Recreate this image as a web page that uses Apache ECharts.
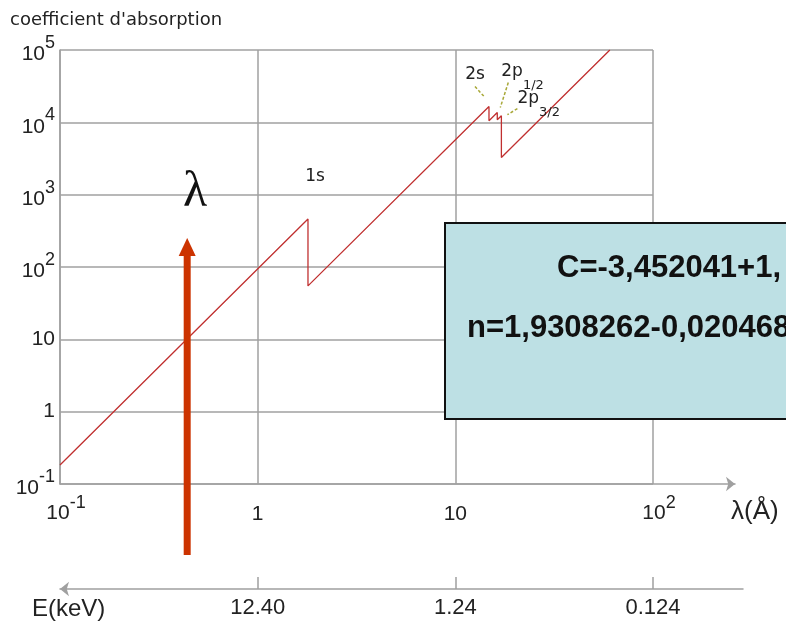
<!DOCTYPE html>
<html>
<head>
<meta charset="utf-8">
<title>coefficient d'absorption</title>
<script src="https://cdn.jsdelivr.net/npm/echarts@6/dist/echarts.min.js"></script>
<style>
html, body { margin: 0; padding: 0; background: #fff; }
#chart { width: 786px; height: 625px; }
</style>
</head>
<body>
<div id="chart"></div>
<script>
// longueur d'onde (Å) et coefficient d'absorption
const lambda = [0.1, 1.797, 1.797, 14.8, 14.8, 16.3, 16.3, 17.1, 17.1, 60.5];
const mu = [0.183, 462, 54.8, 16560, 10500, 13650, 10840, 12360, 3260, 100000];

const lambdaTicks = [0.1, 1, 10, 100];
const lambdaTickLabels = ['{bb|10}{s|-1}', '{xb|1}', '{xb|10}', '{bb|10}{s|2}'];
const muTicks = [0.1, 1, 10, 100, 1000, 10000, 100000];
const muTickLabels = ['{yb|10}{ys|-1}', '{b|1}', '{b|10}', '{yb|10}{ys|2}', '{yb|10}{ys|3}', '{yb|10}{ys|4}', '{yb|10}{ys|5}'];
// axe des énergies : graduations placées en log10(λ)
const energyTicks = [0, 1, 2];
const energyTickLabels = ['12.40', '1.24', '0.124'];
const arrowLambda = 0.44;

const gridColor = '#a0a0a0';
const tickFont = '"Liberation Sans", Arial, sans-serif';
const textFont = '"DejaVu Sans", "Liberation Sans", sans-serif';

function pickLabel(ticks, labels, v) {
  const k = Math.round(Math.log10(v));
  for (let i = 0; i < ticks.length; i++) {
    if (Math.round(Math.log10(ticks[i])) === k) return labels[i];
  }
  return '';
}

const base = { fontFamily: tickFont, fontSize: 21, lineHeight: 30, color: '#222' };
const richTicks = {
  b: Object.assign({}, base),
  xb: Object.assign({}, base, { padding: [11, 0, 0, 0] }),
  bb: Object.assign({}, base, { verticalAlign: 'bottom', padding: [0, 0, 0, 12] }),
  s: Object.assign({}, base, { fontSize: 18, padding: [0, 0, 11, 0] }),
  yb: Object.assign({}, base, { verticalAlign: 'bottom' }),
  ys: Object.assign({}, base, { fontSize: 18, padding: [0, 0, 14, 0] })
};

const chart = echarts.init(document.getElementById('chart'));

const option = {
  animation: false,
  title: {
    text: "coefficient d'absorption",
    left: 5,
    top: 6,
    textStyle: { fontFamily: textFont, fontSize: 18, fontWeight: 'normal', color: '#222' }
  },
  grid: [
    { left: 60, right: 133, top: 50, bottom: 141 },
    { left: 60, right: 51, top: 50, bottom: 141 },
    { left: 60, right: 43, top: 100, bottom: 36 }
  ],
  xAxis: [
    {
      type: 'log', gridIndex: 0, logBase: 10, min: 0.1, max: 100,
      axisLine: { show: false },
      axisTick: { show: false },
      splitLine: { show: true, lineStyle: { color: gridColor, width: 1.5 } },
      axisLabel: {
        margin: 10,
        formatter: v => pickLabel(lambdaTicks, lambdaTickLabels, v),
        rich: richTicks
      }
    },
    {
      type: 'value', gridIndex: 1, min: 0, max: 1,
      axisLine: { show: true, symbol: ['none', 'arrow'], symbolSize: [11, 9], lineStyle: { color: gridColor, width: 1.5 } },
      axisTick: { show: false }, axisLabel: { show: false }, splitLine: { show: false }
    },
    {
      type: 'value', gridIndex: 2, min: -1, max: 2.455, interval: 1, position: 'bottom',
      axisLine: { show: true, symbol: ['arrow', 'none'], symbolSize: [11, 9], lineStyle: { color: gridColor, width: 1.5 } },
      axisTick: { show: true, inside: true, length: 12, customValues: energyTicks, lineStyle: { color: gridColor, width: 1.5 } },
      axisLabel: {
        margin: 8, customValues: energyTicks, color: '#222', fontFamily: tickFont, fontSize: 22,
        formatter: v => energyTickLabels[energyTicks.indexOf(Math.round(v))] || ''
      },
      splitLine: { show: false }
    }
  ],
  yAxis: [
    {
      type: 'log', gridIndex: 0, logBase: 10, min: 0.1, max: 100000,
      axisLine: { show: true, lineStyle: { color: gridColor, width: 1.5 } },
      axisTick: { show: false },
      splitLine: { show: true, lineStyle: { color: gridColor, width: 1.5 } },
      axisLabel: {
        margin: 5,
        formatter: v => pickLabel(muTicks, muTickLabels, v),
        rich: richTicks
      }
    },
    { type: 'value', gridIndex: 1, show: false },
    { type: 'value', gridIndex: 2, show: false }
  ],
  series: [
    {
      type: 'line',
      xAxisIndex: 0, yAxisIndex: 0,
      data: lambda.map((x, i) => [x, mu[i]]),
      showSymbol: false,
      symbol: 'none',
      lineStyle: { color: '#c03030', width: 1.3 },
      z: 5
    }
  ]
};
chart.setOption(option);

// annotations placées à partir des points d'arête
const px = v => chart.convertToPixel({ gridIndex: 0 }, v);
const e1s = px([lambda[1], mu[1]]);
const e2s = px([lambda[3], mu[3]]);
const e2p1 = px([lambda[5], mu[5]]);
const e2p3 = px([lambda[7], mu[7]]);
const ax = chart.convertToPixel({ xAxisIndex: 0 }, arrowLambda);
const dash = { stroke: '#a8a838', lineWidth: 1.5, lineDash: [3, 2] };
const subRich = {
  a: { fontFamily: textFont, fontSize: 17, lineHeight: 20, verticalAlign: 'top', fill: '#222' },
  u: { fontFamily: textFont, fontSize: 13, lineHeight: 14, padding: [16, 0, 0, 0], verticalAlign: 'top', fill: '#222' }
};
const sansFont = '"Liberation Sans", Arial, sans-serif';

chart.setOption({
  graphic: [
    { type: 'text', z: 100, x: e1s[0] + 7, y: e1s[1] - 42,
      style: { text: '1s', fontFamily: textFont, fontSize: 17, fill: '#222', align: 'center', verticalAlign: 'middle' } },
    { type: 'text', z: 100, x: e2s[0] - 14, y: e2s[1] - 32,
      style: { text: '2s', fontFamily: textFont, fontSize: 17, fill: '#222', align: 'center', verticalAlign: 'middle' } },
    { type: 'line', z: 100, shape: { x1: e2s[0] - 14, y1: e2s[1] - 20, x2: e2s[0] - 4, y2: e2s[1] - 9 }, style: dash },
    { type: 'text', z: 100, x: e2p1[0] + 4, y: e2p1[1] - 49,
      style: { text: '{a|2p}{u|1/2}', rich: subRich, align: 'left', verticalAlign: 'top' } },
    { type: 'line', z: 100, shape: { x1: e2p1[0] + 11, y1: e2p1[1] - 30, x2: e2p1[0] + 3, y2: e2p1[1] - 5 }, style: dash },
    { type: 'text', z: 100, x: e2p3[0] + 16, y: e2p3[1] - 26,
      style: { text: '{a|2p}{u|3/2}', rich: subRich, align: 'left', verticalAlign: 'top' } },
    { type: 'line', z: 100, shape: { x1: e2p3[0] + 16, y1: e2p3[1] - 7, x2: e2p3[0] + 6, y2: e2p3[1] - 1 }, style: dash },

    // flèche rouge et lambda
    { type: 'rect', z: 100, shape: { x: ax - 3.5, y: 254, width: 7, height: 301 }, style: { fill: '#cc3300' } },
    { type: 'polygon', z: 100, shape: { points: [[ax, 238], [ax - 8.5, 256], [ax + 8.5, 256]] }, style: { fill: '#cc3300' } },
    { type: 'text', z: 100, x: ax + 8, y: 193,
      style: { text: 'λ', fontFamily: '"Liberation Serif", "DejaVu Serif", serif', fontSize: 50, fill: '#111', align: 'center', verticalAlign: 'middle' } },

    // noms des axes
    { type: 'text', z: 100, x: 731, y: 512,
      style: { text: 'λ(Å)', fontFamily: sansFont, fontSize: 26, fill: '#222', align: 'left', verticalAlign: 'middle' } },
    { type: 'text', z: 100, x: 32, y: 609,
      style: { text: 'E(keV)', fontFamily: sansFont, fontSize: 24, fill: '#222', align: 'left', verticalAlign: 'middle' } },

    // encadré des formules
    { type: 'rect', z: 100, shape: { x: 445, y: 223, width: 400, height: 196 }, style: { fill: '#bde0e4', stroke: '#111', lineWidth: 2 } },
    { type: 'text', z: 101, x: 557, y: 268,
      style: { text: 'C=-3,452041+1,', fontFamily: sansFont, fontWeight: 'bold', fontSize: 31, fill: '#111', align: 'left', verticalAlign: 'middle' } },
    { type: 'text', z: 101, x: 467, y: 328,
      style: { text: 'n=1,9308262-0,020468', fontFamily: sansFont, fontWeight: 'bold', fontSize: 31, fill: '#111', align: 'left', verticalAlign: 'middle' } }
  ]
});
</script>
</body>
</html>
